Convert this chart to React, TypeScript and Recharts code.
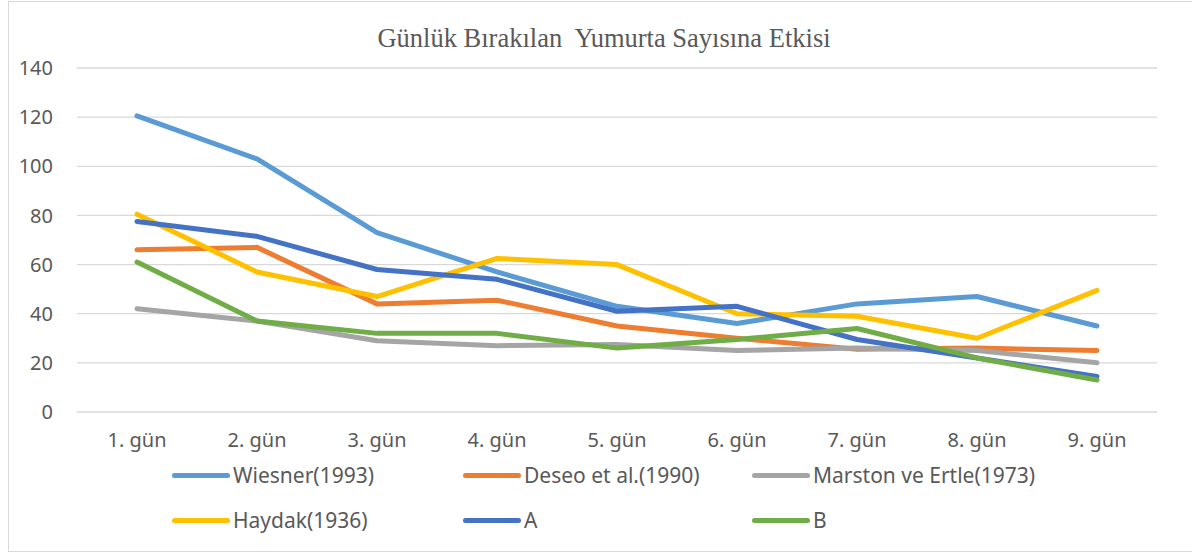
import React from "react";
import { LineChart, Line, XAxis, YAxis, CartesianGrid } from "recharts";

const title = "Günlük Bırakılan  Yumurta Sayısına Etkisi";
const categories = ["1. gün", "2. gün", "3. gün", "4. gün", "5. gün", "6. gün", "7. gün", "8. gün", "9. gün"];
const yTicks = [0, 20, 40, 60, 80, 100, 120, 140];

const wiesner = [120.5, 103, 73, 57, 43, 36, 44, 47, 35];
const deseo = [66, 67, 44, 45.5, 35, 30, 25.5, 26, 25];
const marston = [42, 37, 29, 27, 27.5, 25, 26, 25, 20];
const haydak = [80.5, 57, 47, 62.5, 60, 40, 39, 30, 49.5];
const seriesA = [77.5, 71.5, 58, 54, 41, 43, 29.5, 22, 14.5];
const seriesB = [61, 37, 32, 32, 26, 29.5, 34, 22, 13];

const seriesNames = ["Wiesner(1993)", "Deseo et al.(1990)", "Marston ve Ertle(1973)", "Haydak(1936)", "A", "B"];
const seriesValues = [wiesner, deseo, marston, haydak, seriesA, seriesB];
const seriesColors = ["#5B9BD5", "#ED7D31", "#A5A5A5", "#FFC000", "#4472C4", "#70AD47"];

const data = categories.map((c, i) => {
  const row: Record<string, string | number> = { name: c };
  seriesNames.forEach((s, k) => {
    row[s] = seriesValues[k][i];
  });
  return row;
});

const FONT = "'Noto Sans', sans-serif";
const TEXT = "#595959";

export default function App() {
  return (
    <div style={{ position: "absolute", left: 0, top: 0, width: 1192, height: 553, overflow: "hidden", background: "#fff" }}>
      <div style={{ position: "absolute", left: 8, top: 1, width: 1250, height: 549, border: "1px solid #D9D9D9" }} />
      <div
        style={{
          position: "absolute",
          left: 0,
          width: 1208,
          top: 23,
          textAlign: "center",
          fontFamily: "'Liberation Serif', serif",
          fontSize: 26.5,
          color: TEXT,
          whiteSpace: "pre",
        }}
      >
        {title}
      </div>
      <div style={{ position: "absolute", left: 0, top: 0 }}>
        <LineChart width={1192} height={553} data={data} margin={{ top: 68, right: 35, bottom: 111, left: 0 }}>
          <CartesianGrid vertical={false} stroke="#D9D9D9" strokeWidth={1.3} />
          <XAxis
            dataKey="name"
            height={30}
            axisLine={false}
            tickLine={false}
            tickSize={0}
            tickMargin={21}
            padding={{ left: 60, right: 60 }}
            tick={{ fill: TEXT, fontSize: 20, fontFamily: FONT }}
            interval={0}
          />
          <YAxis
            width={77}
            domain={[0, 140]}
            ticks={yTicks}
            axisLine={false}
            tickLine={false}
            tickSize={0}
            tickMargin={24}
            tick={{ fill: TEXT, fontSize: 20, fontFamily: FONT }}
          />
          {seriesNames.map((s, k) => (
            <Line
              key={s}
              type="linear"
              dataKey={s}
              stroke={seriesColors[k]}
              strokeWidth={5}
              strokeLinecap="round"
              strokeLinejoin="round"
              dot={false}
              activeDot={false}
              isAnimationActive={false}
            />
          ))}
        </LineChart>
      </div>
      {seriesNames.map((s, k) => {
        const col = k % 3;
        const row = Math.floor(k / 3);
        const left = [172, 463, 752][col];
        const top = [475, 520][row];
        return (
          <div key={s} style={{ position: "absolute", left, top: top - 15, height: 30, display: "flex", alignItems: "center" }}>
            <div style={{ width: 58, height: 5, borderRadius: 3, background: seriesColors[k] }} />
            <span style={{ marginLeft: 3, fontFamily: FONT, fontSize: 21, color: TEXT, whiteSpace: "nowrap" }}>{s}</span>
          </div>
        );
      })}
    </div>
  );
}
